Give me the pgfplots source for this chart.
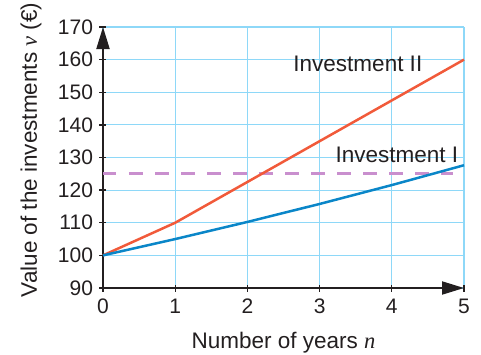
\documentclass[border=0pt]{standalone}
\usepackage{pgfplots}
\pgfplotsset{compat=1.18}
\usetikzlibrary{arrows.meta}
\usepackage{fontspec}
\setmainfont{Liberation Sans}
\newfontfamily\serifit{Liberation Serif}
\definecolor{axisc}{HTML}{231F20}
\definecolor{gridc}{HTML}{8ED8F8}
\definecolor{redc}{HTML}{F15A3A}
\definecolor{bluec}{HTML}{0A86C8}
\definecolor{purpc}{HTML}{C98FCE}
\begin{document}
\begin{tikzpicture}
\begin{axis}[
  scale only axis, width=361pt, height=261pt,
  xmin=0, xmax=5, ymin=90, ymax=170,
  xtick={0,1,2,3,4,5}, ytick={90,100,110,120,130,140,150,160,170},
  axis lines=left,
  axis line style={line width=2pt, color=axisc, -{Triangle[length=22pt,width=13pt]}},
  tick style={line width=1.3pt, color=axisc},
  major tick length=7pt, tick align=center,
  grid=major, grid style={line width=1.2pt, color=gridc},
  xlabel={Number of years {\serifit\itshape n}},
  ylabel={Value of the investments {\serifit\itshape v} (€)},
  xlabel style={at={(axis description cs:0.5,-0.23)}, anchor=base},
  ylabel style={at={(axis description cs:-0.183,0.529)}, anchor=base, rotate=0},
  tick label style={font=\fontsize{21}{24}\selectfont, color=axisc},
  xticklabel style={yshift=-4pt},
  yticklabel style={xshift=-3pt},
  label style={font=\fontsize{22.5}{26}\selectfont, color=axisc},
  /pgf/number format/assume math mode=true,
  /pgf/number format/1000 sep={},
  clip=false,
]
\addplot[color=purpc, line width=2.8pt, dash pattern=on 13.5pt off 12.5pt] coordinates {(0,125) (4.85,125)};
\addplot[color=redc, line width=2.5pt] coordinates {(0,100) (1,110) (2,122.5) (3,135) (4,147.5) (5,160)};
\addplot[color=bluec, line width=2.5pt] coordinates {(0,100) (1,105) (2,110.25) (3,115.76) (4,121.55) (5,127.63)};
\node[font=\fontsize{22.5}{26}\selectfont, color=axisc, anchor=base] at (axis cs:3.53,156.3) {Investment II};
\node[font=\fontsize{22.5}{26}\selectfont, color=axisc, anchor=base] at (axis cs:4.07,128.4) {Investment I};
\coordinate (SW) at (rel axis cs:0,0);
\coordinate (NE) at (rel axis cs:1,1);
\end{axis}
\pgfresetboundingbox
\path (SW) ++(-103pt,-66pt) coordinate (BL);
\path (NE) ++(17pt,27pt) coordinate (TR);
\path[use as bounding box] (BL) rectangle (TR);
\end{tikzpicture}
\end{document}
